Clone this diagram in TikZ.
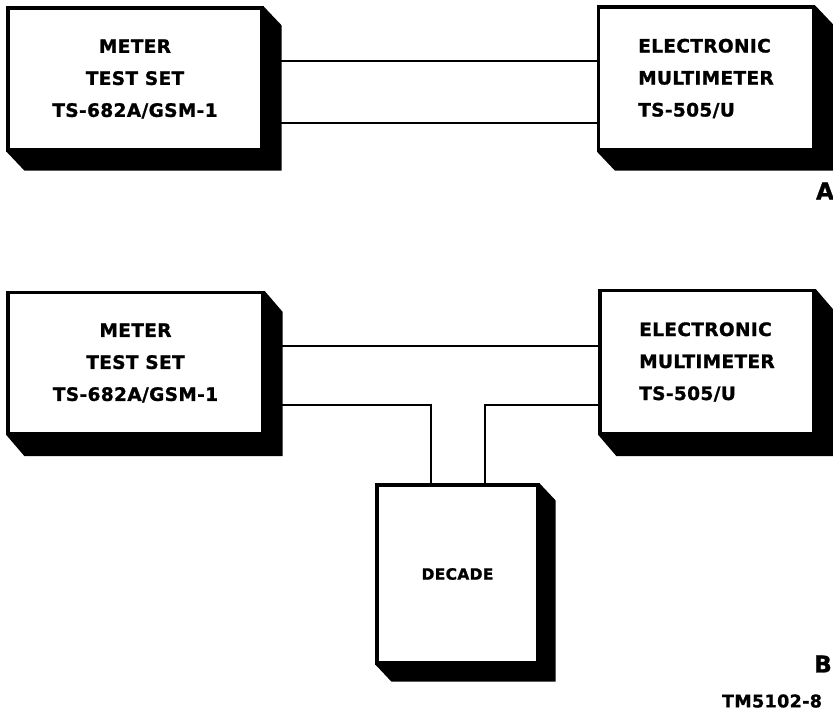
\documentclass[tikz,border=0pt]{standalone}
\usepackage{fontspec}
\usetikzlibrary{calc}
\newfontfamily\lab{DejaVu Sans}[LetterSpace=2, BoldFeatures={FakeBold=1.2}]
\tikzset{
  unitbox/.style={draw, line width=3.2pt, fill=white, inner sep=0pt,
    font=\lab\bfseries\fontsize{18.5}{32}\selectfont},
  conn/.style={line width=2.8pt},
  tag/.style={font=\lab\bfseries\fontsize{23}{24}\selectfont, inner sep=0pt}
}
\newcommand\boxshadow[3]{\fill (#1.north east) -- ++(#2,#3) -- ($(#1.south east)+(#2,#3)$) -- ($(#1.south west)+(#2,#3)$) -- (#1.south west) -- (#1.south east) -- cycle;}
\begin{document}
\begin{tikzpicture}[x=1pt,y=-1pt]
\useasboundingbox (0,0) rectangle (833,712);
% Part A
\node[unitbox, minimum width=254pt, minimum height=142pt, align=center] (A1) at (135,79) {METER\\TEST SET\\TS-682A/GSM-1};
\boxshadow{A1}{18}{19}
\node[unitbox, minimum width=215pt, minimum height=143pt, align=left] (A2) at (706,78.5) {ELECTRONIC\\MULTIMETER\\TS-505/U};
\boxshadow{A2}{18}{19}
\draw[conn] (A1.east |- 0,61) -- (A2.west |- 0,61);
\draw[conn] (A1.east |- 0,123) -- (A2.west |- 0,123);
\node[tag] (la) at (825,191) {A};
% Part B
\node[unitbox, minimum width=255pt, minimum height=141pt, align=center] (B1) at (135.5,363) {METER\\TEST SET\\TS-682A/GSM-1};
\boxshadow{B1}{18}{21}
\node[unitbox, minimum width=214pt, minimum height=143pt, align=left] (B2) at (707,362) {ELECTRONIC\\MULTIMETER\\TS-505/U};
\boxshadow{B2}{18}{21}
\node[unitbox, minimum width=161pt, minimum height=178pt, font=\lab\bfseries\fontsize{15.5}{18}\selectfont] (D) at (457.5,574) {DECADE};
\boxshadow{D}{16}{17}
\draw[conn] (B1.east |- 0,346) -- (B2.west |- 0,346);
\draw[conn] (B1.east |- 0,405) -| (D.north -| 431,0);
\draw[conn] (B2.west |- 0,405) -| (D.north -| 485,0);
\node[tag] (lb) at (823,664) {B};
\node[font=\lab\bfseries\fontsize{17.5}{20}\selectfont, inner sep=0pt] (tm) at (772,701) {TM5102-8};
\end{tikzpicture}
\end{document}
